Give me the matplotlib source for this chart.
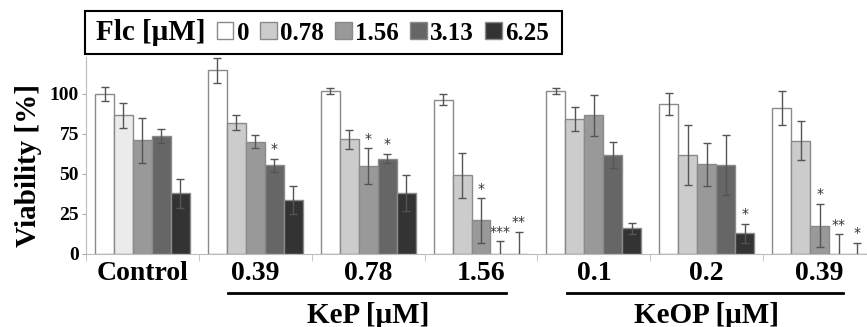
import numpy as np
import matplotlib.pyplot as plt
from matplotlib.patches import Rectangle

plt.rcParams['font.family'] = ['Liberation Serif', 'DejaVu Serif']
plt.rcParams['font.weight'] = 'bold'

# Data
groups = ['Control', '0.39', '0.78', '1.56', '0.1', '0.2', '0.39']
flc_levels = ['0', '0.78', '1.56', '3.13', '6.25']

# viability [%] per group, one list per Flc level
v_0    = [100, 114.6, 101.7, 96.3, 101.7, 93.5, 91]
v_078  = [86.5, 82, 71.7, 49.2, 84.4, 62, 70.8]
v_156  = [71, 70, 55, 21, 86.5, 56, 17.7]
v_313  = [73.5, 55.4, 59.6, 0, 61.7, 55.6, 0]
v_625  = [38, 33.5, 38.1, 0, 16, 13, 0]

e_0    = [4.5, 8, 2, 3.5, 2, 7, 10.5]
e_078  = [8, 4.7, 6, 14, 7.3, 18.7, 12]
e_156  = [14, 4, 11, 14, 13, 13.6, 13.6]
e_313  = [4.5, 4.2, 3, 8, 8, 18.5, 12.3]
e_625  = [9, 8.7, 11, 14, 3.5, 6, 7]

stars_0   = ['', '', '', '', '', '', '']
stars_078 = ['', '', '', '', '', '', '']
stars_156 = ['', '', '*', '*', '', '', '*']
stars_313 = ['', '*', '*', '***', '', '', '**']
stars_625 = ['', '', '', '**', '', '*', '*']

values = [v_0, v_078, v_156, v_313, v_625]
errors = [e_0, e_078, e_156, e_313, e_625]
stars = [stars_0, stars_078, stars_156, stars_313, stars_625]
colors = ['#ffffff', '#cccccc', '#999999', '#666666', '#333333']

fig = plt.figure(figsize=(8.67, 3.27), dpi=100)
ax = fig.add_axes([86/867, 73/327, 790/867, 197/327])

x = np.arange(len(groups))
bar_width = 0.168

for j in range(len(flc_levels)):
    pos = x + (j - 2) * bar_width
    col = [colors[j]] * len(groups)
    if j == 1:
        col[0] = '#ebebeb'  # control bar is lighter in the original
    ax.bar(pos, values[j], bar_width, color=col, edgecolor='#8a8a8a', linewidth=1.0, zorder=2)
    ax.errorbar(pos, values[j], yerr=errors[j], fmt='none', ecolor='#555555',
                elinewidth=1.0, capsize=3, capthick=1.0, zorder=3)
    for i in range(len(groups)):
        if stars[j][i]:
            ax.text(pos[i], values[j][i] + errors[j][i] + 1.5, stars[j][i],
                    ha='center', va='bottom', fontsize=10, fontweight='normal',
                    color='#333333', family='DejaVu Sans')

ax.set_xlim(-0.5, len(groups) - 0.5)
ax.set_ylim(0, 123)
ax.set_yticks([0, 25, 50, 75, 100])
ax.tick_params(axis='y', length=3, color='#aaaaaa', labelsize=14, pad=2)
ax.set_xticks(x)
ax.set_xticklabels(groups, fontsize=20)
ax.tick_params(axis='x', length=0, pad=5)
ax.set_xticks(np.arange(len(groups) + 1) - 0.5, minor=True)
ax.tick_params(axis='x', which='minor', length=5, color='#bbbbbb')

for s in ['top', 'right']:
    ax.spines[s].set_visible(False)
ax.spines['left'].set_color('#bbbbbb')
ax.spines['bottom'].set_color('#bbbbbb')

ax.set_ylabel('Viability [%]', fontsize=21, fontweight='bold')
ax.yaxis.set_label_coords(-0.056, 0.447)

# underlines and compound labels
trans = ax.get_xaxis_transform()
ax.plot([1 - 0.24, 3 + 0.22], [-0.198, -0.198], transform=trans, color='black', lw=2, clip_on=False)
ax.plot([4 - 0.24, 6 + 0.21], [-0.198, -0.198], transform=trans, color='black', lw=2, clip_on=False)
ax.text(2, -0.31, 'KeP [μM]', transform=trans, ha='center', va='center', fontsize=21)
ax.text(5, -0.31, 'KeOP [μM]', transform=trans, ha='center', va='center', fontsize=21)

# legend box
fig.patches.append(Rectangle((85/867, 1 - 54/327), (562 - 85)/867, 43/327,
                             transform=fig.transFigure, fill=False, edgecolor='black', lw=1.5))
fig.text(96/867, 1 - 33/327, 'Flc [μM]', ha='left', va='center', fontsize=21)
handles = [Rectangle((0, 0), 1, 1, facecolor=c, edgecolor='#8a8a8a') for c in colors]
fig.legend(handles, flc_levels, ncol=5, frameon=False, loc='center left',
           bbox_to_anchor=(199/867, 1 - 33/327), prop={'size': 18, 'weight': 'bold'},
           handlelength=0.65, handleheight=0.65, handletextpad=0.15, columnspacing=0.45,
           borderpad=0.2)

fig.savefig('out.png', dpi=100)
